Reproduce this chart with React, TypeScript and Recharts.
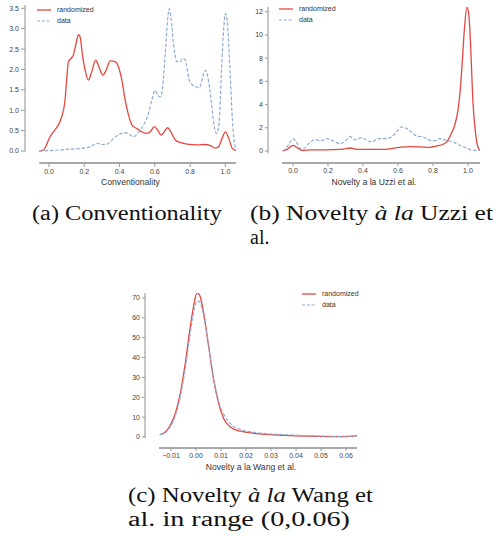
import React from 'react';
import { LineChart, Line, XAxis, YAxis, ReferenceLine, Legend } from 'recharts';

// colours taken from the figure
const RED = '#e5473f';
const BLUE = '#8eabd6';
const SPINE = '#a9a9a9';
const SANS = '"Liberation Sans", Arial, sans-serif';
const SERIF = '"Liberation Serif", "DejaVu Serif", serif';

// (a) Conventionality
const convRandX = [-0.055, -0.032, 0.006, 0.025, 0.053, 0.072, 0.091, 0.1, 0.11, 0.129, 0.138, 0.153, 0.167, 0.176, 0.191, 0.205, 0.223, 0.242, 0.265, 0.28, 0.305, 0.324, 0.347, 0.375, 0.394, 0.413, 0.432, 0.451, 0.47, 0.498, 0.527, 0.555, 0.574, 0.597, 0.616, 0.636, 0.653, 0.672, 0.691, 0.716, 0.744, 0.782, 0.839, 0.886, 0.915, 0.943, 0.962, 0.981, 1.0, 1.019, 1.038, 1.06];
const convRandY = [0, 0.02, 0.35, 0.47, 0.64, 0.84, 1.25, 1.74, 2.19, 2.29, 2.35, 2.63, 2.85, 2.8, 2.31, 1.98, 1.74, 1.94, 2.23, 2.1, 1.86, 1.98, 2.21, 2.19, 2.06, 1.74, 1.25, 0.88, 0.64, 0.55, 0.47, 0.43, 0.47, 0.6, 0.51, 0.39, 0.47, 0.57, 0.47, 0.27, 0.21, 0.17, 0.15, 0.16, 0.13, 0.07, 0.11, 0.31, 0.47, 0.31, 0.07, 0.01];
const convDataX = [-0.055, 0.006, 0.1, 0.195, 0.233, 0.27, 0.3, 0.33, 0.366, 0.404, 0.432, 0.451, 0.48, 0.508, 0.536, 0.564, 0.583, 0.602, 0.616, 0.631, 0.644, 0.659, 0.672, 0.682, 0.691, 0.706, 0.725, 0.744, 0.759, 0.773, 0.792, 0.811, 0.839, 0.854, 0.867, 0.886, 0.9, 0.919, 0.934, 0.949, 0.964, 0.977, 0.991, 1.0, 1.01, 1.025, 1.042, 1.06];
const convDataY = [0, 0.01, 0.04, 0.07, 0.1, 0.19, 0.16, 0.17, 0.31, 0.42, 0.45, 0.42, 0.35, 0.47, 0.64, 0.92, 1.25, 1.49, 1.37, 1.33, 1.57, 2.39, 3.2, 3.49, 3.29, 2.63, 2.19, 2.19, 2.27, 2.23, 1.78, 1.63, 1.57, 1.56, 1.74, 1.98, 1.82, 1.25, 0.68, 0.43, 0.68, 1.9, 3.04, 3.37, 3.2, 2.06, 0.6, 0.02];
const convXTicks = [0, 0.2, 0.4, 0.6, 0.8, 1.0];
const convYTicks = [0, 0.5, 1.0, 1.5, 2.0, 2.5, 3.0, 3.5];

// (b) Novelty a la Uzzi
const uzziRandX = [-0.059, -0.034, 0, 0.023, 0.051, 0.099, 0.23, 0.288, 0.326, 0.364, 0.516, 0.611, 0.668, 0.725, 0.782, 0.82, 0.858, 0.886, 0.905, 0.924, 0.943, 0.956, 0.968, 0.981, 0.994, 1.004, 1.015, 1.028, 1.044, 1.057, 1.069];
const uzziRandY = [0, 0.14, 0.49, 0.29, 0.06, 0.09, 0.12, 0.17, 0.26, 0.14, 0.14, 0.32, 0.37, 0.35, 0.32, 0.43, 0.58, 0.92, 1.5, 2.2, 3.5, 5.24, 7.8, 10.7, 12.4, 11.9, 9.27, 4.37, 1.5, 0.35, 0.06];
const uzziDataX = [-0.059, -0.034, -0.015, 0, 0.019, 0.042, 0.061, 0.089, 0.127, 0.156, 0.197, 0.23, 0.27, 0.298, 0.326, 0.355, 0.393, 0.421, 0.45, 0.488, 0.535, 0.564, 0.592, 0.62, 0.649, 0.677, 0.706, 0.744, 0.782, 0.81, 0.839, 0.877, 0.915, 0.953, 0.99, 1.028, 1.057, 1.069];
const uzziDataY = [0, 0.35, 0.78, 1.06, 0.78, 0.2, 0.2, 0.63, 0.98, 0.89, 1.06, 0.86, 0.63, 0.83, 1.24, 0.98, 1.15, 0.92, 0.78, 1.06, 1.06, 1.21, 1.64, 2.07, 1.93, 1.64, 1.29, 1.21, 0.92, 0.89, 1.06, 0.92, 0.78, 0.49, 0.26, 0.06, 0.06, 0.05];
const uzziXTicks = [0, 0.2, 0.4, 0.6, 0.8, 1.0];
const uzziYTicks = [0, 2, 4, 6, 8, 10, 12];

// (c) Novelty a la Wang
const wangRandX = [-0.0145, -0.0123, -0.0103, -0.0083, -0.0063, -0.0043, -0.0023, -0.0005, 0.0004, 0.0015, 0.0031, 0.0051, 0.0071, 0.0091, 0.0111, 0.0137, 0.0177, 0.0244, 0.035, 0.0484, 0.0577, 0.0617, 0.0644];
const wangRandY = [1.2, 2.5, 5.9, 11.7, 21.8, 36.9, 55.4, 68.8, 72.7, 71.3, 62.1, 45.3, 28.5, 16.8, 9.2, 5.0, 2.9, 1.7, 0.84, 0.34, 0.17, 0.3, 0.67];
const wangDataX = [-0.0145, -0.0123, -0.0103, -0.0083, -0.0063, -0.0043, -0.0023, -0.0005, 0.0007, 0.0017, 0.0033, 0.0053, 0.0073, 0.0093, 0.0117, 0.0144, 0.019, 0.0257, 0.035, 0.0484, 0.0577, 0.0644];
const wangDataY = [1.2, 2.2, 5.0, 10.6, 20.1, 34.4, 52, 65.5, 68.5, 67.5, 59.6, 43.6, 27.7, 16.8, 10.1, 5.9, 3.4, 2.0, 1.2, 0.5, 0.34, 0.5];
const wangXTicks = [-0.01, 0, 0.01, 0.02, 0.03, 0.04, 0.05, 0.06];
const wangYTicks = [0, 10, 20, 30, 40, 50, 60, 70];

const zip = (xs: number[], ys: number[]) =>
  xs.slice(0, Math.min(xs.length, ys.length)).map((x, i) => ({ x, y: ys[i] }));

const minus = (s: string) => s.replace('-', '\u2212');

const LegendBox = () => (
  <div style={{ fontFamily: SANS, fontSize: 7, color: '#333', lineHeight: '10.5px' }}>
    <div style={{ display: 'flex', alignItems: 'center' }}>
      <svg width={14} height={6}><line x1={0} x2={14} y1={3} y2={3} stroke={RED} strokeWidth={1.3} /></svg>
      <span style={{ marginLeft: 6 }}>randomized</span>
    </div>
    <div style={{ display: 'flex', alignItems: 'center' }}>
      <svg width={14} height={6}><line x1={0} x2={14} y1={3} y2={3} stroke={BLUE} strokeWidth={1.2} strokeDasharray="3 1.8" /></svg>
      <span style={{ marginLeft: 6 }}>data</span>
    </div>
  </div>
);

type PanelProps = {
  left: number; top: number; width: number; height: number;
  margin: { top: number; right: number; bottom: number; left: number };
  yAxisWidth: number; xAxisHeight: number;
  xDomain: [number, number]; yDomain: [number, number];
  xTicks: number[]; yTicks: number[];
  xFmt: (v: number) => string; yFmt: (v: number) => string;
  xLabel: string; labelOffset: number; tickSize: number;
  leftSpine: [number, number]; bottomSpine: [number, number];
  rand: { x: number; y: number }[]; data: { x: number; y: number }[];
  legendPos: { left: number; top: number };
};

const Panel = (p: PanelProps) => (
  <div style={{ position: 'absolute', left: p.left, top: p.top }}>
    <LineChart width={p.width} height={p.height} margin={p.margin}>
      <XAxis
        type="number" dataKey="x" domain={p.xDomain} ticks={p.xTicks} interval={0}
        allowDataOverflow axisLine={false} tickSize={p.tickSize} tickMargin={2}
        height={p.xAxisHeight} tickFormatter={p.xFmt}
        tick={{ fontSize: 7, fill: '#444', fontFamily: SANS }}
        tickLine={{ stroke: '#999' }}
        label={{ value: p.xLabel, position: 'insideBottom', offset: p.labelOffset, fontSize: 8.6, fill: '#333', fontFamily: SANS }}
      />
      <YAxis
        type="number" domain={p.yDomain} ticks={p.yTicks} interval={0}
        allowDataOverflow axisLine={false} tickSize={p.tickSize} tickMargin={2}
        width={p.yAxisWidth} tickFormatter={p.yFmt}
        tick={{ fontSize: 7, fill: '#444', fontFamily: SANS }}
        tickLine={{ stroke: '#999' }}
      />
      <ReferenceLine
        segment={[{ x: p.xDomain[0], y: p.leftSpine[0] }, { x: p.xDomain[0], y: p.leftSpine[1] }]}
        stroke={SPINE} strokeWidth={1.3}
      />
      <ReferenceLine
        segment={[{ x: p.bottomSpine[0], y: p.yDomain[0] }, { x: p.bottomSpine[1], y: p.yDomain[0] }]}
        stroke={SPINE} strokeWidth={2}
      />
      <Legend
        layout="vertical" align="center" verticalAlign="middle"
        content={() => <LegendBox />}
        wrapperStyle={{ left: p.legendPos.left, top: p.legendPos.top, width: 'auto', height: 'auto' }}
      />
      <Line data={p.rand} dataKey="y" type="monotone" stroke={RED} strokeWidth={1.3} dot={false} isAnimationActive={false} name="randomized" />
      <Line data={p.data} dataKey="y" type="monotone" stroke={BLUE} strokeWidth={1.2} strokeDasharray="3.5 1.8" dot={false} isAnimationActive={false} name="data" />
    </LineChart>
  </div>
);

export default function App() {
  return (
    <div style={{ position: 'absolute', left: 0, top: 0, width: 498, height: 537, background: '#fff' }}>
      <Panel
        left={0} top={0} width={250} height={190}
        margin={{ top: 5, right: 14, bottom: 0, left: 0 }}
        yAxisWidth={25} xAxisHeight={27}
        xDomain={[-0.136, 1.06]} yDomain={[-0.294, 3.58]}
        xTicks={convXTicks} yTicks={convYTicks}
        xFmt={(v) => v.toFixed(1)} yFmt={(v) => v.toFixed(1)}
        xLabel="Conventionality" labelOffset={5} tickSize={4}
        leftSpine={[-0.02, 3.58]} bottomSpine={[-0.055, 1.06]}
        rand={zip(convRandX, convRandY)} data={zip(convDataX, convDataY)}
        legendPos={{ left: 37, top: 5 }}
      />
      <Panel
        left={250} top={0} width={248} height={190}
        margin={{ top: 7, right: 18, bottom: 0, left: 0 }}
        yAxisWidth={18} xAxisHeight={27}
        xDomain={[-0.143, 1.069]} yDomain={[-1.034, 12.41]}
        xTicks={uzziXTicks} yTicks={uzziYTicks}
        xFmt={(v) => v.toFixed(1)} yFmt={(v) => String(v)}
        xLabel="Novelty a la Uzzi et al." labelOffset={5} tickSize={3}
        leftSpine={[-0.2, 12.41]} bottomSpine={[-0.063, 1.069]}
        rand={zip(uzziRandX, uzziRandY)} data={zip(uzziDataX, uzziDataY)}
        legendPos={{ left: 29, top: 4 }}
      />
      <Panel
        left={100} top={250} width={280} height={230}
        margin={{ top: 43, right: 23, bottom: 0, left: 0 }}
        yAxisWidth={45} xAxisHeight={32}
        xDomain={[-0.0204, 0.0644]} yDomain={[-5.54, 72.5]}
        xTicks={wangXTicks} yTicks={wangYTicks}
        xFmt={(v) => minus(v.toFixed(2))} yFmt={(v) => String(v)}
        xLabel="Novelty a la Wang et al." labelOffset={10} tickSize={3}
        leftSpine={[-0.5, 72.5]} bottomSpine={[-0.0148, 0.0644]}
        rand={zip(wangRandX, wangRandY)} data={zip(wangDataX, wangDataY)}
        legendPos={{ left: 202, top: 39 }}
      />
      <svg width={498} height={537} style={{ position: 'absolute', left: 0, top: 0, pointerEvents: 'none' }}>
        <g fontFamily={SERIF} fontSize={20} fill="#111">
          <text x={32} y={220} textLength={190} lengthAdjust="spacingAndGlyphs">(a) Conventionality</text>
          <text x={250} y={220} textLength={243} lengthAdjust="spacingAndGlyphs">
            (b) Novelty <tspan fontStyle="italic">à la</tspan> Uzzi et
          </text>
          <text x={250} y={244}>al.</text>
          <text x={128} y={502} textLength={245} lengthAdjust="spacingAndGlyphs">
            (c) Novelty <tspan fontStyle="italic">à la</tspan> Wang et
          </text>
          <text x={128} y={526} textLength={222} lengthAdjust="spacingAndGlyphs">al. in range (0,0.06)</text>
        </g>
      </svg>
    </div>
  );
}
